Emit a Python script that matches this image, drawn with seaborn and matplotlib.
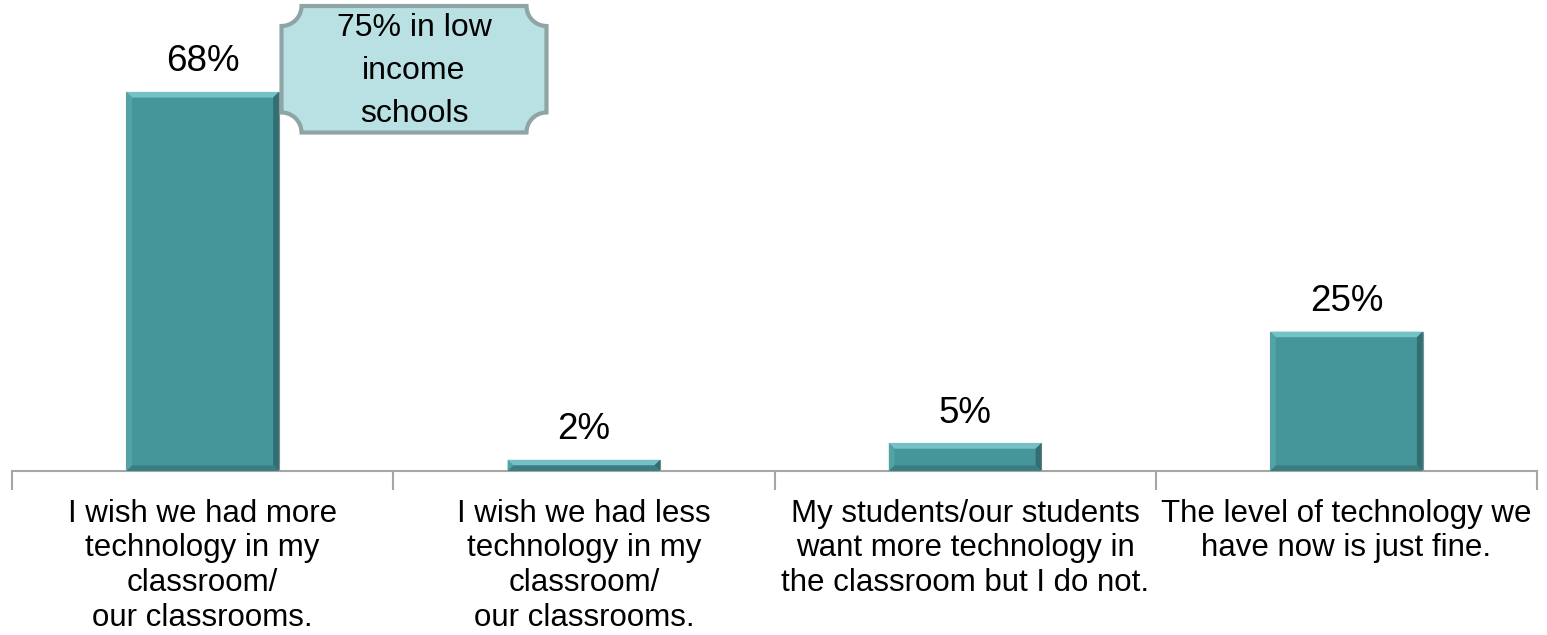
import numpy as np
import pandas as pd
import matplotlib
matplotlib.use("Agg")
import matplotlib.pyplot as plt
from matplotlib.path import Path
from matplotlib.patches import PathPatch, Polygon
import seaborn as sns

# dados
categorias = ["I wish we had more\ntechnology in my\nclassroom/\nour classrooms.",
              "I wish we had less\ntechnology in my\nclassroom/\nour classrooms.",
              "My students/our students\nwant more technology in\nthe classroom but I do not.",
              "The level of technology we\nhave now is just fine."]
valores = [68, 2, 5, 25]
rotulos = ["68%", "2%", "5%", "25%"]
nota = "75% in low\nincome\nschools"

df = pd.DataFrame({"cat": categorias, "pct": valores})

sns.set_theme(style="white")
plt.rcParams["font.family"] = ["Liberation Sans", "DejaVu Sans"]

fig = plt.figure(figsize=(15.47, 6.35), dpi=100)
ax = fig.add_axes([12 / 1547, 1 - 471 / 635, 1525 / 1547, 471 / 635])

sns.barplot(data=df, x="cat", y="pct", color="#45969A", width=0.4,
            edgecolor="#7C8F90", linewidth=0.8, saturation=1, ax=ax)

ax.set_xlim(-0.5, 3.5)
ax.set_ylim(0, 84.5)

# efeito chanfrado nas barras
bx, by = 0.015, 1.0
for p in list(ax.patches):
    x0, w, h = p.get_x(), p.get_width(), p.get_height()
    x1 = x0 + w
    dy = min(by, h / 2)
    dx = bx
    lados = [
        ([(x0, h), (x1, h), (x1 - dx, h - dy), (x0 + dx, h - dy)], "#74C2C6"),
        ([(x1, h), (x1, 0), (x1 - dx, dy), (x1 - dx, h - dy)], "#336F72"),
        ([(x0, h), (x0, 0), (x0 + dx, dy), (x0 + dx, h - dy)], "#52A3A6"),
        ([(x0, 0), (x1, 0), (x1 - dx, dy), (x0 + dx, dy)], "#3A7E81"),
    ]
    for pts, c in lados:
        ax.add_patch(Polygon(pts, closed=True, facecolor=c, edgecolor="none", zorder=3))

for i, (v, r) in enumerate(zip(valores, rotulos)):
    ax.annotate(r, (i, v), xytext=(0, 9), textcoords="offset points",
                ha="center", va="bottom", fontsize=26.5, color="black")

ax.set_yticks([])
ax.set_xlabel("")
ax.set_ylabel("")
for s in ["left", "right", "top"]:
    ax.spines[s].set_visible(False)
ax.spines["bottom"].set_color("#A6A6A6")
ax.spines["bottom"].set_linewidth(1.5)

ax.set_xticks(range(len(categorias)))
ax.set_xticklabels(categorias, fontsize=22.5, linespacing=1.2, va="top", color="black")
ax.tick_params(axis="x", which="major", length=0, pad=20)
ax.set_xticks(np.arange(-0.5, len(categorias), 1.0), minor=True)
ax.tick_params(axis="x", which="minor", length=14, width=1.5, color="#A6A6A6",
               bottom=True)

# caixa de destaque (formato placa)
def placa(x0, y0, w, h, r, n=12):
    pts = []
    cantos = [((x0, y0), 90, 0), ((x0 + w, y0), 180, 90),
              ((x0 + w, y0 + h), 270, 180), ((x0, y0 + h), 360, 270)]
    for (cx, cy), a1, a2 in cantos:
        t = np.radians(np.linspace(a1, a2, n))
        pts += list(zip(cx + r * np.cos(t), cy + r * np.sin(t)))
    pts.append(pts[0])
    return Path(pts, closed=True)

caixa = PathPatch(placa(2.815, 5.025, 2.65, 1.265, 0.2), transform=fig.dpi_scale_trans,
                  facecolor="#B9E0E3", edgecolor="#8FA4A5", lw=3)
fig.add_artist(caixa)
fig.text(4.14 / 15.47, 5.64 / 6.35, nota, ha="center", va="center", fontsize=23,
         linespacing=1.56, color="black")

fig.savefig("out.png", dpi=100)
